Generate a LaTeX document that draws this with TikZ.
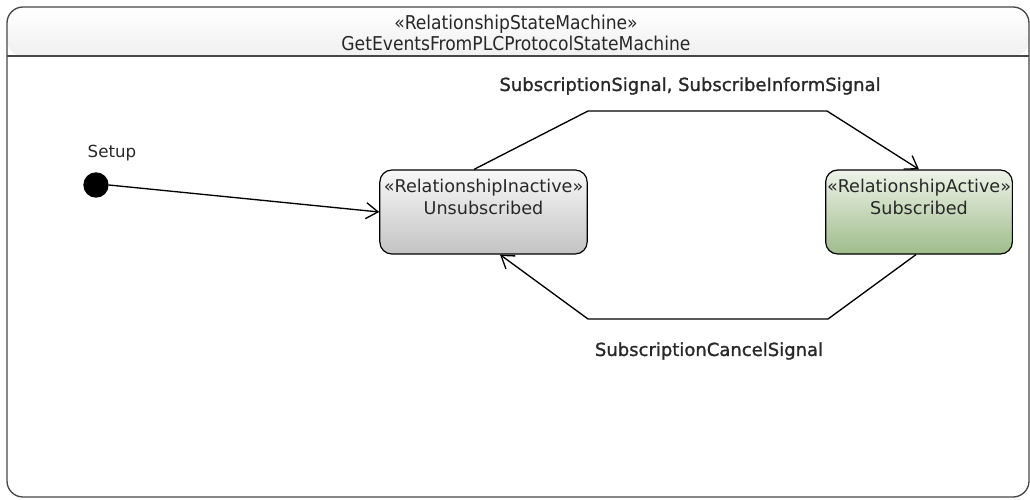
\documentclass[tikz,border=0pt]{standalone}
\usepackage{fontspec}
\setmainfont{DejaVu Sans}
\newfontfamily\condfont{DejaVu Sans Condensed}
\newfontfamily\labelfont[FakeBold=1.2]{DejaVu Sans}
\usetikzlibrary{arrows.meta,calc}
\definecolor{frameline}{RGB}{70,70,70}
\definecolor{inactivetop}{RGB}{248,248,248}
\definecolor{inactivebot}{RGB}{195,195,195}
\definecolor{activetop}{RGB}{238,243,233}
\definecolor{activebot}{RGB}{158,188,138}
\definecolor{textgray}{RGB}{40,40,40}

\begin{document}
\begin{tikzpicture}[x=0.75pt, y=-0.75pt,
  state/.style={draw=black, line width=0.9pt, rounded corners=9pt,
    minimum height=63pt, inner sep=0pt},
  trans/.style={draw=black, line width=1pt, -{Straight Barb[length=9pt, width=12pt]}},
  translabel/.style={font=\labelfont\fontsize{13.5}{15}\selectfont, text=textgray}]
  \useasboundingbox (0,0) rectangle (1030,499);

  % Outer frame of the state machine with its header
  \shade[top color=white, bottom color=black!6, rounded corners=12pt]
    (7,7) -- (1029,7) -- (1029,56) -- (7,56) -- cycle;
  \draw[frameline, line width=1pt, rounded corners=12pt] (7,7) rectangle (1029,497);
  \draw[frameline, line width=1pt] (7,56) -- (1029,56);
  \node[font=\condfont\fontsize{14.3}{16}\selectfont, align=center, text=textgray] (title)
    at (516,33) {«RelationshipStateMachine»\\GetEventsFromPLCProtocolStateMachine};

  % Initial pseudo state
  \node[circle, fill=black, minimum size=19pt, inner sep=0pt] (setup) at (96,185) {};
  \node[font=\fontsize{12.5}{15}\selectfont, text=textgray] (setuplbl) at (112,153) {Setup};

  % States
  \node[state, minimum width=155.5pt, top color=inactivetop, bottom color=inactivebot,
    label={[anchor=north, yshift=-3.5pt, align=center, font=\fontsize{13.2}{17}\selectfont, text=textgray]north:{«RelationshipInactive»\\Unsubscribed}}]
    (unsub) at (483.5,212) {};
  \node[state, minimum width=140pt, top color=activetop, bottom color=activebot,
    label={[anchor=north, yshift=-3.5pt, align=center, font=\fontsize{13.2}{17}\selectfont, text=textgray]north:{«RelationshipActive»\\Subscribed}}]
    (sub) at (919,212) {};

  % Transitions
  \draw[trans] (setup.east) -- (unsub.west);
  \draw[trans] ($(unsub.north)+(-9.5,0)$) -- (588,111) -- (827,111) -- (sub.north);
  \draw[trans] ($(sub.south)+(-3,0)$) -- (828,319) -- (588,319) -- ($(unsub.south)+(16.5,0)$);

  \node[translabel] (sublbl) at (690,86) {SubscriptionSignal, SubscribeInformSignal};
  \node[translabel] (cancellbl) at (709,351) {SubscriptionCancelSignal};
\end{tikzpicture}
\end{document}
